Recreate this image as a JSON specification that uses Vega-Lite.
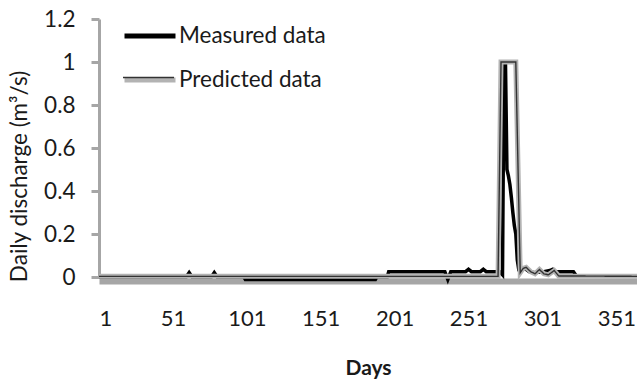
{
  "$schema": "https://vega.github.io/schema/vega-lite/v6.json",
  "width": 538,
  "height": 258,
  "autosize": {"type": "none"},
  "padding": {"left": 99, "top": 19, "right": 0, "bottom": 102},
  "background": "#ffffff",
  "config": {"view": {"stroke": null}, "font": "Lato"},
  "datasets": {
    "measured": [
      {"day": 1, "value": 0, "series": "Measured data"},
      {"day": 60, "value": 0, "series": "Measured data"},
      {"day": 62, "value": 0.02, "series": "Measured data"},
      {"day": 64, "value": 0, "series": "Measured data"},
      {"day": 77, "value": 0, "series": "Measured data"},
      {"day": 79, "value": 0.02, "series": "Measured data"},
      {"day": 81, "value": 0, "series": "Measured data"},
      {"day": 99, "value": 0, "series": "Measured data"},
      {"day": 100, "value": -0.012, "series": "Measured data"},
      {"day": 188, "value": -0.012, "series": "Measured data"},
      {"day": 189, "value": 0, "series": "Measured data"},
      {"day": 196, "value": 0, "series": "Measured data"},
      {"day": 197, "value": 0.025, "series": "Measured data"},
      {"day": 235, "value": 0.025, "series": "Measured data"},
      {"day": 237, "value": -0.012, "series": "Measured data"},
      {"day": 239, "value": 0.025, "series": "Measured data"},
      {"day": 249, "value": 0.025, "series": "Measured data"},
      {"day": 251, "value": 0.036, "series": "Measured data"},
      {"day": 253, "value": 0.025, "series": "Measured data"},
      {"day": 259, "value": 0.025, "series": "Measured data"},
      {"day": 261, "value": 0.036, "series": "Measured data"},
      {"day": 263, "value": 0.025, "series": "Measured data"},
      {"day": 272, "value": 0.025, "series": "Measured data"},
      {"day": 274, "value": 0.01, "series": "Measured data"},
      {"day": 275, "value": 1.0, "series": "Measured data"},
      {"day": 276, "value": 1.0, "series": "Measured data"},
      {"day": 277, "value": 0.5, "series": "Measured data"},
      {"day": 278, "value": 0.47, "series": "Measured data"},
      {"day": 279, "value": 0.43, "series": "Measured data"},
      {"day": 280, "value": 0.37, "series": "Measured data"},
      {"day": 281, "value": 0.3, "series": "Measured data"},
      {"day": 282, "value": 0.24, "series": "Measured data"},
      {"day": 283, "value": 0.2, "series": "Measured data"},
      {"day": 284, "value": 0.08, "series": "Measured data"},
      {"day": 285, "value": 0.035, "series": "Measured data"},
      {"day": 289, "value": 0.04, "series": "Measured data"},
      {"day": 292, "value": 0.025, "series": "Measured data"},
      {"day": 296, "value": 0.02, "series": "Measured data"},
      {"day": 302, "value": 0.025, "series": "Measured data"},
      {"day": 306, "value": 0.03, "series": "Measured data"},
      {"day": 308, "value": 0.036, "series": "Measured data"},
      {"day": 310, "value": 0.025, "series": "Measured data"},
      {"day": 322, "value": 0.025, "series": "Measured data"},
      {"day": 324, "value": 0.005, "series": "Measured data"},
      {"day": 365, "value": 0.005, "series": "Measured data"}
    ],
    "predicted": [
      {"day": 1, "value": 0.003, "series": "Predicted data"},
      {"day": 271, "value": 0.003, "series": "Predicted data"},
      {"day": 273, "value": 1.0, "series": "Predicted data"},
      {"day": 283, "value": 1.0, "series": "Predicted data"},
      {"day": 286, "value": 0.02, "series": "Predicted data"},
      {"day": 288, "value": 0.04, "series": "Predicted data"},
      {"day": 290, "value": 0.045, "series": "Predicted data"},
      {"day": 293, "value": 0.025, "series": "Predicted data"},
      {"day": 296, "value": 0.015, "series": "Predicted data"},
      {"day": 299, "value": 0.035, "series": "Predicted data"},
      {"day": 302, "value": 0.015, "series": "Predicted data"},
      {"day": 305, "value": 0.01, "series": "Predicted data"},
      {"day": 309, "value": 0.03, "series": "Predicted data"},
      {"day": 312, "value": 0.005, "series": "Predicted data"},
      {"day": 365, "value": 0.003, "series": "Predicted data"}
    ]
  },
  "encoding": {
    "x": {
      "field": "day",
      "type": "quantitative",
      "scale": {"domain": [1, 365], "nice": false, "zero": false},
      "axis": {
        "title": "Days",
        "values": [1, 51, 101, 151, 201, 251, 301, 351],
        "grid": false,
        "ticks": false,
        "tickSize": 0,
        "offset": 4,
        "domainColor": "#a6a6a6",
        "domainWidth": 6,
        "labelPadding": 27,
        "labelFontSize": 22,
        "labelColor": "#1a1a1a",
        "labelFont": "Lato",
        "titleFont": "Lato",
        "titleFontSize": 21,
        "titleFontWeight": "bold",
        "titleColor": "#1a1a1a",
        "titlePadding": 28
      }
    },
    "y": {
      "field": "value",
      "type": "quantitative",
      "scale": {"domain": [0, 1.2], "nice": false},
      "axis": {
        "title": "Daily discharge (m³/s)",
        "values": [0, 0.2, 0.4, 0.6, 0.8, 1, 1.2],
        "format": "~g",
        "grid": false,
        "domainColor": "#a6a6a6",
        "domainWidth": 3,
        "tickColor": "#a6a6a6",
        "tickWidth": 3,
        "tickSize": 8,
        "labelPadding": 16,
        "labelFontSize": 22.5,
        "labelColor": "#1a1a1a",
        "labelFont": "Lato",
        "titleFont": "Lato",
        "titleFontSize": 22.5,
        "titleFontWeight": "normal",
        "titleColor": "#1a1a1a",
        "titleAngle": -90,
        "titleX": -80,
        "titleY": 157,
        "titleAlign": "center",
        "titleBaseline": "middle"
      }
    }
  },
  "layer": [
    {
      "data": {"name": "measured"},
      "mark": {"type": "line", "strokeWidth": 3.5, "strokeJoin": "miter"},
      "encoding": {
        "color": {
          "field": "series",
          "type": "nominal",
          "scale": {"domain": ["Measured data", "Predicted data"], "range": ["#000000", "#b3b3b3"]},
          "legend": {
            "title": null,
            "orient": "none",
            "legendX": 23,
            "legendY": -11,
            "padding": 0,
            "symbolType": "stroke",
            "symbolSize": 2600,
            "symbolStrokeWidth": 5,
            "labelFontSize": 22.5,
            "labelFont": "Lato",
            "labelColor": "#1a1a1a",
            "labelOffset": 1,
            "rowPadding": 4
          }
        }
      }
    },
    {
      "data": {"name": "predicted"},
      "mark": {"type": "line", "strokeWidth": 5},
      "encoding": {
        "color": {"field": "series", "type": "nominal"}
      }
    },
    {
      "data": {"name": "predicted"},
      "mark": {"type": "line", "strokeWidth": 1.4, "color": "#333333"},
      "encoding": {
        "strokeDash": {
          "field": "series",
          "type": "nominal",
          "scale": {"domain": ["Predicted data"], "range": [[1, 0]]},
          "legend": {
            "title": null,
            "orient": "none",
            "legendX": 23,
            "legendY": 32,
            "padding": 0,
            "symbolType": "stroke",
            "symbolSize": 2600,
            "symbolStrokeWidth": 1.4,
            "symbolStrokeColor": "#333333",
            "labelFontSize": 22.5,
            "labelFont": "Lato",
            "labelExpr": "''",
            "labelOffset": 1,
            "rowPadding": 0
          }
        }
      }
    }
  ]
}
